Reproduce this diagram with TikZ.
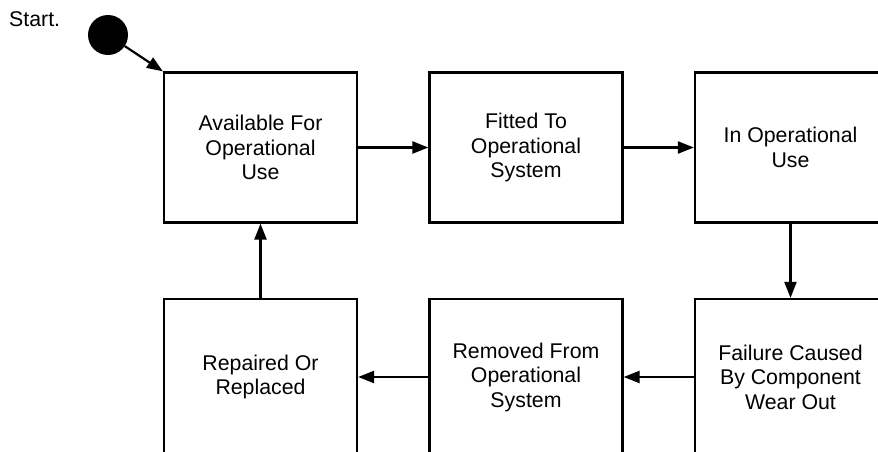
\documentclass[tikz,border=0pt]{standalone}
\usepackage{fontspec}
\setmainfont{Liberation Sans}
\usetikzlibrary{arrows.meta}
\begin{document}
\begin{tikzpicture}[x=1pt,y=-1pt,
  labelfont/.style={font=\fontsize{21.3}{24.5}\selectfont},
  state/.style={draw, line width=2.2pt, minimum width=193pt, minimum height=150pt,
    align=center, inner sep=0pt, labelfont},
  lowstate/.style={state, minimum height=156pt},
  flow/.style={line width=2.2pt, -{Triangle[length=16pt,width=12pt]}}]
  \clip (0,0) rectangle (878,452);
  % initial pseudo-state
  \node[circle, fill, minimum size=40pt, inner sep=0pt] (start) at (108,35) {};
  \node[anchor=base west, inner sep=0pt, labelfont] (startlbl) at (9,27) {Start.};
  % top row
  \node[state] (avail) at (260.5,147.5) {Available For\\Operational\\Use};
  \node[state] (fitted) at (526,147.5) {Fitted To\\Operational\\System};
  \node[state, minimum width=191pt] (inuse) at (790.5,147.5) {In Operational\\Use};
  % bottom row
  \node[lowstate] (repaired) at (260.5,377) {Repaired Or\\Replaced};
  \node[lowstate] (removed) at (526,377) {Removed From\\Operational\\System};
  \node[lowstate, minimum width=191pt] (failure) at (790.5,377) {Failure Caused\\By Component\\Wear Out};
  % transitions
  \draw[flow] (start) -- (avail.north west);
  \draw[flow] (avail) -- (fitted);
  \draw[flow] (fitted) -- (inuse);
  \draw[flow] (inuse) -- (failure);
  \draw[flow] (failure) -- (removed);
  \draw[flow] (removed) -- (repaired);
  \draw[flow] (repaired) -- (avail);
\end{tikzpicture}
\end{document}
